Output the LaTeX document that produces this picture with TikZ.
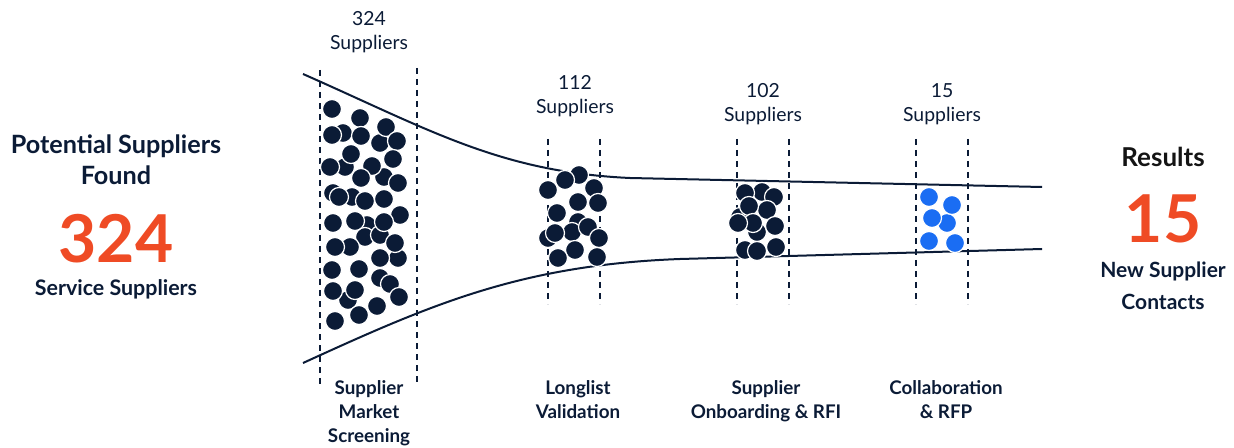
\documentclass[tikz,border=0pt]{standalone}
\usepackage{fontspec}
\setmainfont{Lato}
\usepackage{xcolor}
\usetikzlibrary{positioning,calc}

\definecolor{navy}{HTML}{0B1B36}
\definecolor{accent}{HTML}{EF4B25}
\definecolor{pickblue}{HTML}{1A6DF3}
\definecolor{inkblack}{HTML}{141414}

\tikzset{
    funnel/.style={line width=1pt, draw=navy},
    stageline/.style={line width=1pt, draw=navy, dash pattern=on 3pt off 2.5pt},
    supplier/.style={fill=navy, draw=white, line width=0.6pt},
    chosen/.style={fill=pickblue, draw=white, line width=0.6pt},
    countlabel/.style={align=center, inner sep=0pt, text=navy, font=\fontsize{9.7}{12}\selectfont},
    steplabel/.style={align=center, inner sep=0pt, text=navy, font=\bfseries\fontsize{9.4}{12}\selectfont},
    bignum/.style={inner sep=0pt, text=accent, font=\bfseries\fontsize{33}{33}\selectfont},
    headline/.style={align=center, inner sep=0pt, text=navy, font=\bfseries\fontsize{12.6}{15.5}\selectfont}
}

\begin{document}
\begin{tikzpicture}[x=0.5pt, y=-0.5pt]
    \useasboundingbox (0,0) rectangle (1234,448);

    % Funnel outline
    \draw [funnel] (303,74) .. controls (430,130) and (500,172) .. (630,178) -- (1042,187);
    \draw [funnel] (303,363) .. controls (430,305) and (520,265) .. (680,259) -- (1042,249);

    % Stage boundaries
    \foreach \x/\top/\bot in {320/70/385, 417/68/385, 548/139/304, 600/139/304, 737/139/304, 789/139/304, 916/139/304, 968/139/304} {
        \draw [stageline] (\x,\top) -- (\x,\bot);
    }

    % Market screening (324)
    \foreach \x/\y in {343/133, 380/143, 345/167, 384/177, 333/193, 352/197, 365/201, 367/225, 365/237, 380/235, 350/247, 398/258, 380/278, 348/300,
        332/109, 360/118, 386/127, 332/135, 361/136, 397/141, 351/154, 393/159, 330/167, 372/166, 361/178, 398/183,
        339/197, 384/199, 400/215, 333/223, 355/221, 384/222, 335/247, 395/243, 380/258, 332/270, 359/269, 390/284,
        333/291, 355/290, 399/297, 377/306, 335/321, 359/315} {
        \fill [supplier] (\x,\y) circle (4.75pt);
    }

    % Longlist validation (112)
    \foreach \x/\y in {579/175, 565/180, 548/190, 594/188, 598/203, 578/202, 557/213, 578/222, 572/232, 588/227,
        548/238, 555/233, 599/238, 575/250, 558/258, 597/257} {
        \fill [supplier] (\x,\y) circle (4.75pt);
    }

    % Onboarding (102)
    \foreach \x/\y in {762/192, 745/193, 774/197, 740/217, 767/210, 749/206, 757/232, 753/223, 738/223, 775/226,
        745/250, 776/247, 757/251} {
        \fill [supplier] (\x,\y) circle (4.75pt);
    }

    % Collaboration (15)
    \foreach \x/\y in {947/223, 929/197, 952/205, 932/218, 929/241, 955/243} {
        \fill [chosen] (\x,\y) circle (4.75pt);
    }

    % Counts above the stages
    \node [countlabel] (count1) at (369,32) {324\\Suppliers};
    \node [countlabel] (count2) at (575,96) {112\\Suppliers};
    \node [countlabel] (count3) at (763,104) {102\\Suppliers};
    \node [countlabel] (count4) at (942,104) {15\\Suppliers};

    % Stage names
    \node [steplabel, anchor=north] (stage1) at (369,380) {Supplier\\Market\\Screening};
    \node [steplabel, anchor=north] (stage2) at (578,380) {Longlist\\Validation};
    \node [steplabel, anchor=north] (stage3) at (766,380) {Supplier\\Onboarding \& RFI};
    \node [steplabel, anchor=north] (stage4) at (946,380) {Collaboration\\\& RFP};

    % Left summary
    \node [headline] (found) at (116,160) {Potential Suppliers\\Found};
    \node [bignum] (total) at (116,239) {324};
    \node [headline, font=\bfseries\fontsize{10.7}{12}\selectfont, anchor=base] (service) at (116,295) {Service Suppliers};

    % Right summary
    \node [headline, text=inkblack, font=\bfseries\fontsize{13}{15}\selectfont] (results) at (1163,157) {Results};
    \node [bignum] (picked) at (1163,219) {15};
    \node [headline, font=\bfseries\fontsize{10.5}{16}\selectfont] (contacts) at (1163,286) {New Supplier\\Contacts};
\end{tikzpicture}
\end{document}
